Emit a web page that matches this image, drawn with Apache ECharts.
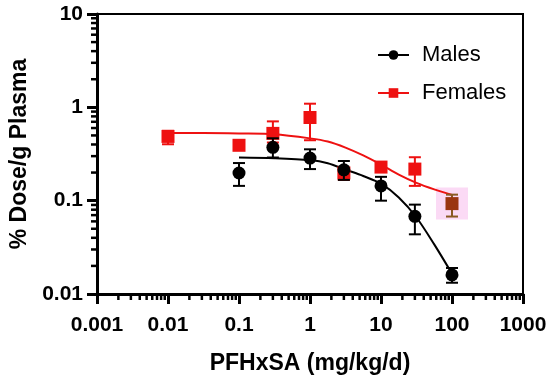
<!DOCTYPE html>
<html>
<head>
<meta charset="utf-8">
<script src="https://cdn.jsdelivr.net/npm/echarts@6/dist/echarts.min.js"></script>
<style>html,body{margin:0;padding:0;background:#fff}#c{width:550px;height:380px}</style>
</head>
<body>
<div id="c"></div>
<script>
// ---- data ----
var maleDose = [0.1, 0.3, 1, 3, 10, 30, 100];
var maleMean = [0.198, 0.373, 0.286, 0.214, 0.144, 0.068, 0.016];
var maleLow  = [0.144, 0.29, 0.218, 0.167, 0.10, 0.0436, 0.0132];
var maleHigh = [0.253, 0.466, 0.355, 0.266, 0.18, 0.0907, 0.019];

var femaleDose = [0.01, 0.1, 0.3, 1, 3, 10, 30, 100];
var femaleMean = [0.488, 0.392, 0.526, 0.778, 0.198, 0.229, 0.218, 0.093];
var femaleLow  = [0.402, 0.392, 0.42, 0.444, 0.167, 0.212, 0.144, 0.0676];
var femaleHigh = [0.56, 0.392, 0.707, 1.094, 0.225, 0.245, 0.292, 0.116];

// fitted curves
var maleFitX = [0.1, 0.316, 1, 1.78, 3.16, 5.62, 10, 17.8, 31.6, 56.2, 100];
var maleFitY = [0.29, 0.285, 0.272, 0.252, 0.215, 0.184, 0.152, 0.108, 0.066, 0.034, 0.0165];
var femaleFitX = [0.01, 0.0316, 0.1, 0.316, 1, 1.78, 3.16, 5.62, 10, 17.8, 31.6, 56.2, 100];
var femaleFitY = [0.53, 0.53, 0.525, 0.515, 0.465, 0.43, 0.37, 0.305, 0.243, 0.19, 0.155, 0.132, 0.115];

var xTicks = [0.001, 0.01, 0.1, 1, 10, 100, 1000];
var yTicks = [0.01, 0.1, 1, 10];
var minorMult = [2, 3, 4, 5, 6, 7, 8, 9];

var highlightIndex = 7; // female point at 100 that appears highlighted

// ---- build ----
function zip(a, b) { return a.map(function (v, i) { return [v, b[i]]; }); }
var xMinor = [], yMinor = [];
for (var i = 0; i < xTicks.length - 1; i++) minorMult.forEach(function (m) { xMinor.push([xTicks[i] * m]); });
for (var j = 0; j < yTicks.length - 1; j++) minorMult.forEach(function (m) { yMinor.push([yTicks[j] * m]); });

var RED = '#ee1111', BROWN = '#9a3510', BROWNBAR = '#8a5a22';

function errData(x, lo, hi) { return x.map(function (v, i) { return [v, lo[i], hi[i]]; }); }
function errRender(colorFn) {
  return function (params, api) {
    var x = api.value(0);
    var pLo = api.coord([x, api.value(1)]);
    var pHi = api.coord([x, api.value(2)]);
    var c = colorFn(params.dataIndex);
    var st = { stroke: c, lineWidth: 2 };
    var hw = 6;
    return { type: 'group', children: [
      { type: 'line', shape: { x1: pLo[0], y1: pLo[1], x2: pHi[0], y2: pHi[1] }, style: st },
      { type: 'line', shape: { x1: pLo[0] - hw, y1: pLo[1], x2: pLo[0] + hw, y2: pLo[1] }, style: st },
      { type: 'line', shape: { x1: pHi[0] - hw, y1: pHi[1], x2: pHi[0] + hw, y2: pHi[1] }, style: st }
    ]};
  };
}

var femalePts = zip(femaleDose, femaleMean).map(function (p, i) {
  return i === highlightIndex ? { value: p, itemStyle: { color: BROWN } } : p;
});

var FONT = '"Liberation Sans", Arial, sans-serif';
var chart = echarts.init(document.getElementById('c'), null, { renderer: 'canvas' });
chart.setOption({
  animation: false,
  backgroundColor: '#fff',
  grid: { left: 96, right: 27, top: 14, bottom: 83, show: true, borderColor: '#000', borderWidth: 2, backgroundColor: 'transparent' },
  legend: {
    data: ['Males', 'Females'],
    orient: 'vertical', left: 372, top: 39,
    itemWidth: 31, itemHeight: 12, itemGap: 16,
    textStyle: { fontFamily: FONT, fontSize: 22, color: '#000', padding: [0, 0, 0, 8] }
  },
  xAxis: {
    type: 'log', logBase: 10, min: 0.001, max: 1000, interval: 1,
    name: 'PFHxSA (mg/kg/d)', nameLocation: 'middle', nameGap: 58,
    nameTextStyle: { fontFamily: FONT, fontSize: 23, fontWeight: 'bold', color: '#000' },
    axisLine: { lineStyle: { color: '#000', width: 3 } },
    axisTick: { length: 10, lineStyle: { color: '#000', width: 3 } },
    splitLine: { show: false },
    axisLabel: { fontFamily: FONT, fontSize: 21, fontWeight: 'bold', color: '#000', margin: 21,
      formatter: function (v) { return String(+Number(v).toPrecision(6)); } }
  },
  yAxis: {
    type: 'log', logBase: 10, min: 0.01, max: 10, interval: 1,
    name: '% Dose/g Plasma', nameLocation: 'middle', nameGap: 66, nameRotate: 90,
    nameTextStyle: { fontFamily: FONT, fontSize: 23, fontWeight: 'bold', color: '#000' },
    axisLine: { lineStyle: { color: '#000', width: 3 } },
    axisTick: { length: 10, lineStyle: { color: '#000', width: 3 } },
    splitLine: { show: false },
    axisLabel: { fontFamily: FONT, fontSize: 21, fontWeight: 'bold', color: '#000', margin: 14,
      formatter: function (v) { return String(+Number(v).toPrecision(6)); } }
  },
  series: [
    { type: 'custom', name: 'xminor', silent: true, clip: false, data: xMinor, encode: { x: 0 },
      renderItem: function (params, api) {
        var p = api.coord([api.value(0), 0.01]);
        return { type: 'line', shape: { x1: p[0], y1: p[1], x2: p[0], y2: p[1] + 6 }, style: { stroke: '#000', lineWidth: 2.5 } };
      } },
    { type: 'custom', name: 'yminor', silent: true, clip: false, data: yMinor, encode: { y: 0 },
      renderItem: function (params, api) {
        var p = api.coord([0.001, api.value(0)]);
        return { type: 'line', shape: { x1: p[0], y1: p[1], x2: p[0] - 6, y2: p[1] }, style: { stroke: '#000', lineWidth: 2.5 } };
      } },
    { type: 'scatter', name: 'hl', silent: true, symbol: 'rect', symbolSize: 32, z: 1,
      itemStyle: { color: 'rgba(250,205,242,0.75)', opacity: 1 },
      data: [[femaleDose[highlightIndex], femaleMean[highlightIndex]]] },
    { type: 'line', name: 'Females', data: zip(femaleFitX, femaleFitY), smooth: 0.3, showSymbol: false,
      symbol: 'rect', symbolSize: 12, itemStyle: { color: RED }, lineStyle: { color: RED, width: 2 }, z: 2 },
    { type: 'line', name: 'Males', data: zip(maleFitX, maleFitY), smooth: 0.3, showSymbol: false,
      symbol: 'circle', symbolSize: 12, itemStyle: { color: '#000' }, lineStyle: { color: '#000', width: 2 }, z: 3 },
    { type: 'custom', name: 'ferr', data: errData(femaleDose, femaleLow, femaleHigh), encode: { x: 0, y: [1, 2] }, z: 4,
      renderItem: errRender(function (i) { return i === highlightIndex ? BROWNBAR : RED; }) },
    { type: 'scatter', name: 'fpts', data: femalePts, symbol: 'rect', symbolSize: 13, itemStyle: { color: RED, opacity: 1 }, z: 5 },
    { type: 'custom', name: 'merr', data: errData(maleDose, maleLow, maleHigh), encode: { x: 0, y: [1, 2] }, z: 6,
      renderItem: errRender(function () { return '#000'; }) },
    { type: 'scatter', name: 'mpts', data: zip(maleDose, maleMean), symbol: 'circle', symbolSize: 13, itemStyle: { color: '#000', opacity: 1 }, z: 7 }
  ]
});
</script>
</body>
</html>
